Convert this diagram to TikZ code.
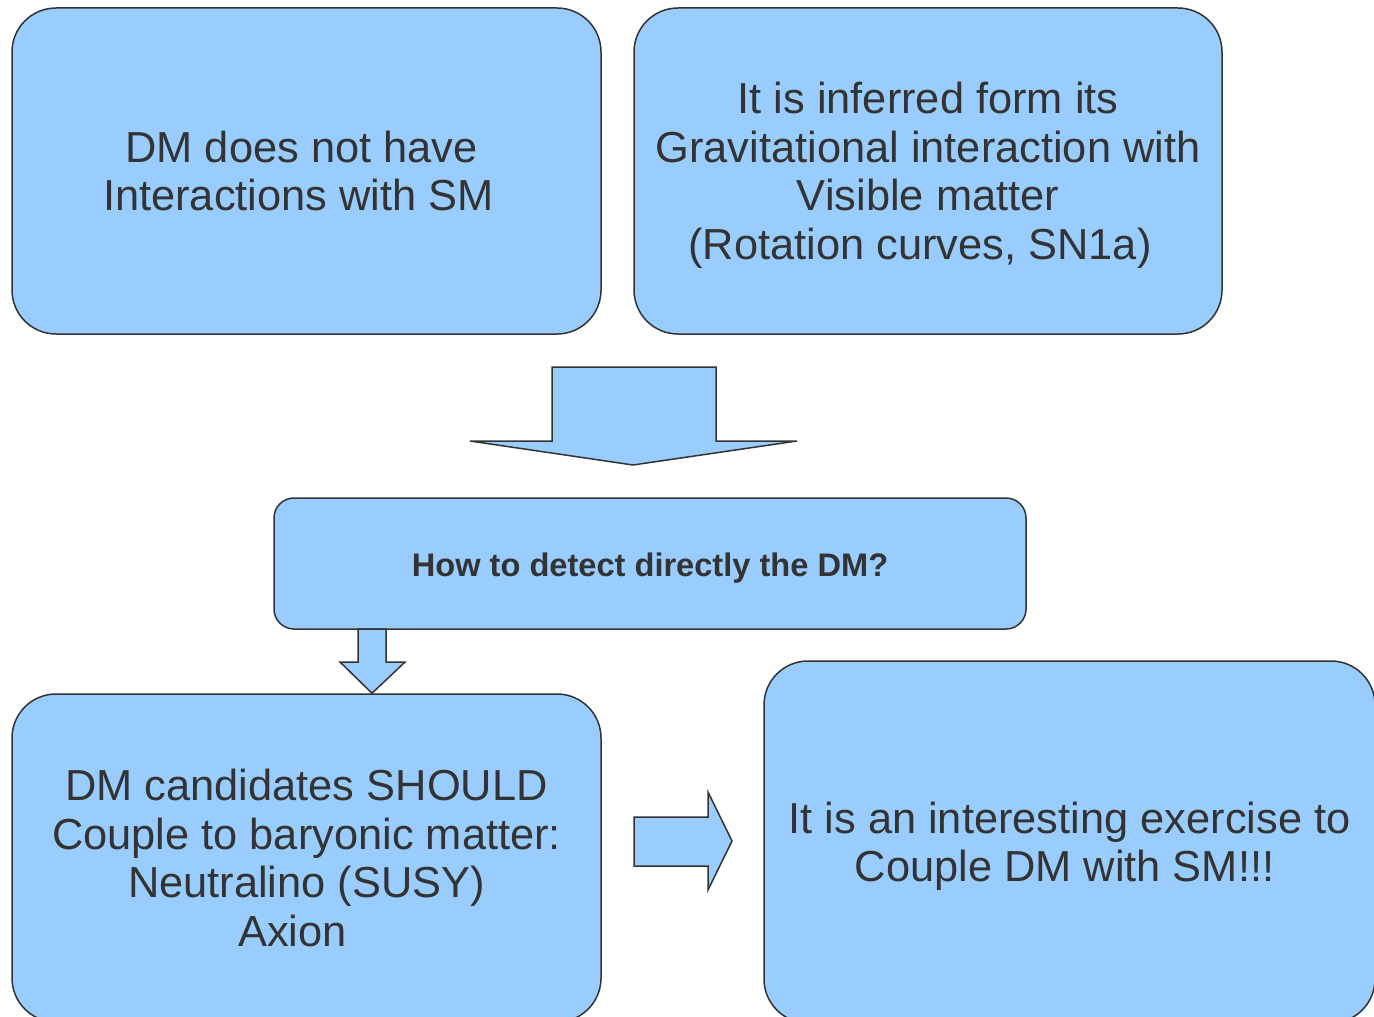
\documentclass[tikz,border=0pt]{standalone}
\usepackage{fontspec}
\setmainfont{Liberation Sans}
\usepackage{xcolor}
\usetikzlibrary{positioning}
\definecolor{boxblue}{HTML}{99CCFF}
\definecolor{ink}{HTML}{333333}

\begin{document}
\begin{tikzpicture}[x=0.5pt, y=-0.5pt, line width=0.75pt,
  box/.style={draw=ink, fill=boxblue, text=ink, align=center, inner sep=0pt, rounded corners=22pt,
    font=\fontsize{21.7}{24.3}\selectfont},
  blockarrow/.style={draw=ink, fill=boxblue, line join=miter}]
  \useasboundingbox (0,0) rectangle (1374,1016);
  \clip (0,0) rectangle (1374,1016);
  % top row
  \node[box, minimum width=294.5pt, minimum height=163pt] (nointer) at (306.5,171)
    {DM does not have\hspace*{5pt}\\Interactions with SM\hspace*{8pt}};
  \node[box, minimum width=294pt, minimum height=163pt] (gravity) at (928,171)
    {\rule{0pt}{20pt}It is inferred form its\\Gravitational interaction with\\Visible matter\\(Rotation curves, SN1a)\hspace*{8pt}};
  % question
  \node[box, rounded corners=10pt, minimum width=376pt, minimum height=65.5pt,
    font=\fontsize{16.3}{19}\selectfont\bfseries] (detect) at (650,563.5)
    {\rule{0pt}{16pt}How to detect directly the DM?};
  % bottom row
  \node[box, minimum width=294.5pt, minimum height=164pt] (cand) at (306.5,858)
    {DM candidates SHOULD\\Couple to baryonic matter:\\Neutralino (SUSY)\\Axion\hspace*{14pt}};
  \node[box, minimum width=305.5pt, minimum height=181pt] (couple) at (1069.5,842)
    {\rule{0pt}{20pt}It is an interesting exercise to\\Couple DM with SM!!!\hspace*{5pt}};
  % block arrows
  \draw[blockarrow] (552,367) -- (716,367) -- (716,441) -- (797,441) -- (633,465)
    -- (470,441) -- (552,441) -- cycle;
  \draw[blockarrow] (358,629) -- (386,629) -- (386,662) -- (405,662) -- (cand.north -| 372,0)
    -- (340,662) -- (358,662) -- cycle;
  \draw[blockarrow] (634,817) -- (708,817) -- (708,792) -- (732,841) -- (708,890)
    -- (708,866) -- (634,866) -- cycle;
\end{tikzpicture}
\end{document}
